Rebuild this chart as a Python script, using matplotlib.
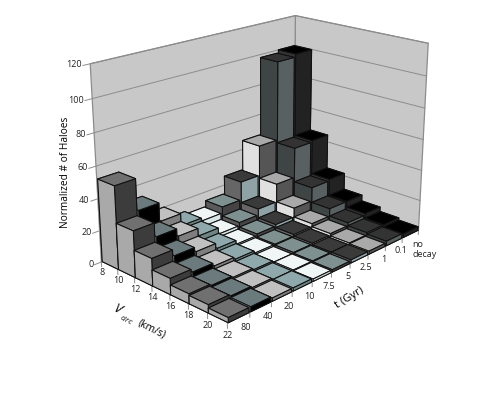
import numpy as np
import matplotlib
matplotlib.use('Agg')
import matplotlib.pyplot as plt
from mpl_toolkits.mplot3d import proj3d
from mpl_toolkits.mplot3d.art3d import Poly3DCollection

plt.rcParams['font.family'] = ['Open Sans', 'DejaVu Sans']

v_labels = ['8', '10', '12', '14', '16', '18', '20', '22']
t_labels = ['80', '40', '20', '10', '7.5', '5', '2.5', '1', '0.1', 'no\ndecay']
y_ticks = [0, 20, 40, 60, 80, 100, 120]

# one list per t series; entries run over the V bins from 8 upward
h_80 = [52, 29, 17, 10, 6, 5, 3]
h_40 = [32, 20, 13, 8, 5, 4, 3]
h_20 = [20, 15, 10, 6, 4, 3, 2]
h_10 = [12, 10, 6.5, 4.5, 3, 2, 2]
h_75 = [10, 6, 4, 3, 2, 2, 1.5]
h_5 = [14, 8, 5, 3, 2.5, 2, 1.5]
h_25 = [26, 12, 6, 4, 3, 2, 2]
h_1 = [46, 24, 12, 6, 4, 2.5, 2]
h_01 = [98, 44, 21, 11, 6, 4, 3]
h_nd = [100, 45, 22, 11, 7, 4, 2.5]
heights = [h_80, h_40, h_20, h_10, h_75, h_5, h_25, h_1, h_01, h_nd]

top_c = ['#707070', '#6b7a7c', '#c0c0c0', '#8fa8ab', '#f0f5f5', '#7f9090', '#3a3a3a', '#a9a9a9', '#333333', '#000000']
right_c = ['#3c3c3c', '#000000', '#7f7f7f', '#6f8585', '#d8e6e6', '#444444', '#8fa3a6', '#555555', '#586062', '#222222']
left_c = ['#a9a9a9', '#8a9a9c', '#666666', '#a9bcbe', '#eeeeee', '#5a5a5a', '#666666', '#e0e0e0', '#3f4444', '#333333']

W, H = 479, 398
fig = plt.figure(figsize=(W / 100, H / 100), dpi=100)
ax = fig.add_axes([0.1273, 0.1036, 0.83, 1.0], projection='3d')
ax.set_proj_type('persp', focal_length=0.5062)
ax.view_init(elev=19.816, azim=-135.972)
ax.set_box_aspect((1, 0.6370, 0.7206), zoom=0.9604)
ax.set_axis_off()
ax.computed_zorder = False

wall_c = '#c8c8c8'
line_c = '#8c8c8c'
text_c = '#222222'
walls = [[(0, 7, 0), (10, 7, 0), (10, 7, 120), (0, 7, 120)],
         [(10, 7, 0), (10, 0, 0), (10, 0, 120), (10, 7, 120)]]
ax.add_collection3d(Poly3DCollection(walls, facecolors=wall_c, edgecolors=line_c, linewidths=0.9, zorder=1))
for yv in y_ticks:
    ax.plot([-0.3, 10], [7, 7], [yv, yv], color=line_c, lw=0.7, zorder=2)
    if yv:
        ax.plot([10, 10], [7, 0], [yv, yv], color=line_c, lw=0.7, zorder=2)

order = 10
for j in range(9, -1, -1):
    for i in range(7):
        order += 1
        cols = [top_c[j], top_c[j], right_c[j], right_c[j], left_c[j], left_c[j]]
        ax.bar3d(j + 0.04, 6 - i, 0, 0.92, 1, heights[j][i], color=cols, edgecolor='#111111',
                 linewidth=0.75, shade=False, zorder=order)

for i in range(len(v_labels)):
    ax.plot([0, 0], [7 - i, 7 - i], [0, -3], color=line_c, lw=0.7, zorder=2)
for j in range(len(t_labels)):
    ax.plot([j + 1, j + 1], [0, 0], [0, -3], color=line_c, lw=0.7, zorder=2)

ax.set_xlim(0, 10)
ax.set_ylim(0, 7)
ax.set_zlim(0, 120)
ax.apply_aspect()
M = ax.get_proj()


def label(x, y, z, s, **kw):
    px, py, _ = proj3d.proj_transform(x, y, z, M)
    ax.text2D(px, py, s, transform=ax.transData, fontsize=6.5, color=text_c, **kw)


for yv in y_ticks:
    label(-0.35, 7, yv + 0.5, str(yv), ha='right', va='center')
for i, lab in enumerate(v_labels):
    label(0, 7 - i, -7, lab, ha='center', va='center')
for j, lab in enumerate(t_labels):
    if j < 9:
        label(j + 0.5, -0.35, -4, lab, ha='center', va='center')
    else:
        label(j + 0.25, -0.35, -7.5, lab, ha='left', va='center', linespacing=1.25)

fig.text(66 / W, 1 - 172 / H, 'Normalized # of Haloes', rotation=90, fontsize=7.3, ha='center', va='center')
fig.text(118 / W, 1 - 310 / H, 'V', rotation=-27, style='italic', fontsize=9.5, ha='center', va='center')
fig.text(126 / W, 1 - 321 / H, 'circ', rotation=-27, style='italic', fontsize=6, ha='center', va='center')
fig.text(152 / W, 1 - 329 / H, '(km/s)', rotation=-27, fontsize=7.5, ha='center', va='center')
fig.text(350 / W, 1 - 298 / H, 't (Gyr)', rotation=32, fontsize=8, ha='center', va='center')

fig.savefig('out.png', dpi=100)
